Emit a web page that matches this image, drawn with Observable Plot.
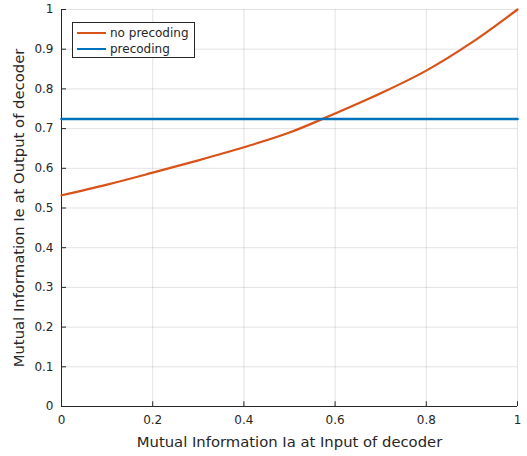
<!DOCTYPE html>
<html>
<head>
<meta charset="utf-8">
<script src="https://cdn.jsdelivr.net/npm/d3@7"></script>
<script src="https://cdn.jsdelivr.net/npm/@observablehq/plot@0.6"></script>
<style>
  html, body { margin: 0; padding: 0; background: #fff; }
  #wrap { position: relative; width: 527px; height: 456px; font-family: "DejaVu Sans", sans-serif; }
  #legend { position: absolute; left: 72px; top: 22px; width: 121px; height: 34px; border: 1px solid #262626; background: #fff; font-size: 12px; color: #262626; }
  .row { position: absolute; left: 4px; height: 14px; display: flex; align-items: center; }
  .sw { width: 29px; height: 0; border-top: 2px solid; margin-right: 4px; }
</style>
</head>
<body>
<div id="wrap"></div>
<script>
const xTicks = [0, 0.2, 0.4, 0.6, 0.8, 1];
const yTicks = [0, 0.1, 0.2, 0.3, 0.4, 0.5, 0.6, 0.7, 0.8, 0.9, 1];
const ia = [0, 0.1, 0.2, 0.3, 0.4, 0.5, 0.6, 0.7, 0.8, 0.9, 1.0];
const ieNoPrecoding = [0.532, 0.559, 0.589, 0.620, 0.653, 0.690, 0.738, 0.789, 0.846, 0.917, 1.0];
const iePrecoding = [0.724, 0.724];
const iaPrecoding = [0, 1];
const seriesNames = ["no precoding", "precoding"];
const seriesColors = ["#D95319", "#0072BD"];

const noPre = ia.map((x, i) => ({x, y: ieNoPrecoding[i]}));
const pre = iaPrecoding.map((x, i) => ({x, y: iePrecoding[i]}));
const ink = "#262626";

const chart = Plot.plot({
  width: 527,
  height: 456,
  marginLeft: 61,
  marginRight: 10,
  marginTop: 9,
  marginBottom: 50,
  style: {fontFamily: "DejaVu Sans, sans-serif", color: ink, background: "#fff"},
  x: {domain: [0, 1]},
  y: {domain: [0, 1]},
  marks: [
    Plot.gridX(xTicks, {stroke: ink, strokeOpacity: 0.13, strokeWidth: 1}),
    Plot.gridY(yTicks, {stroke: ink, strokeOpacity: 0.13, strokeWidth: 1}),
    Plot.ruleX(xTicks, {y1: 0, y2: 0.012, stroke: ink, strokeWidth: 1}),
    Plot.ruleY(yTicks, {x1: 0, x2: 0.011, stroke: ink, strokeWidth: 1}),
    Plot.axisX({ticks: xTicks, tickSize: 0, tickPadding: 9, fontSize: 12, tickFormat: d3.format("~g"),
      label: "Mutual Information Ia at Input of decoder", labelAnchor: "center", labelArrow: "none", labelOffset: 40}),
    Plot.axisY({ticks: yTicks, tickSize: 0, tickPadding: 8, fontSize: 12, tickFormat: d3.format("~g"),
      label: "Mutual Information Ie at Output of decoder", labelAnchor: "center", labelArrow: "none", labelOffset: 48}),
    Plot.ruleY([0], {stroke: ink, strokeWidth: 1}),
    Plot.ruleX([0], {stroke: ink, strokeWidth: 1}),
    Plot.line(noPre, {x: "x", y: "y", stroke: seriesColors[0], strokeWidth: 2.2, curve: "monotone-x"}),
    Plot.line(pre, {x: "x", y: "y", stroke: seriesColors[1], strokeWidth: 2.6})
  ]
});
d3.select(chart).selectAll("g[aria-label='x-axis label'] text, g[aria-label='y-axis label'] text").style("font-size", "14.8px");

const wrap = document.getElementById("wrap");
wrap.appendChild(chart);
const legend = document.createElement("div");
legend.id = "legend";
seriesNames.forEach((name, i) => {
  const row = document.createElement("div");
  row.className = "row";
  row.style.top = (3 + i * 16) + "px";
  const sw = document.createElement("span");
  sw.className = "sw";
  sw.style.borderTopColor = seriesColors[i];
  sw.style.borderTopWidth = i === 1 ? "2.5px" : "2px";
  const t = document.createElement("span");
  t.textContent = name;
  row.appendChild(sw);
  row.appendChild(t);
  legend.appendChild(row);
});
wrap.appendChild(legend);
</script>
</body>
</html>
